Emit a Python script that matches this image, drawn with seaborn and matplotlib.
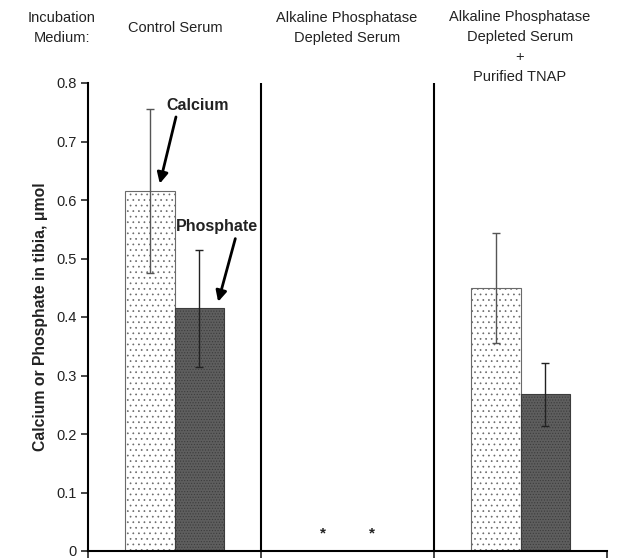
import matplotlib
matplotlib.use("Agg")
import matplotlib.pyplot as plt
import seaborn as sns
import pandas as pd
import numpy as np

groups = ["Control Serum", "Alkaline Phosphatase\nDepleted Serum",
          "Alkaline Phosphatase\nDepleted Serum\n+\nPurified TNAP"]
measures = ["Calcium", "Phosphate"]
calcium = [0.615, 0.0, 0.45]
phosphate = [0.415, 0.0, 0.268]
calcium_err = [0.14, 0.0, 0.094]
phosphate_err = [0.10, 0.0, 0.054]
yticks = [0, 0.1, 0.2, 0.3, 0.4, 0.5, 0.6, 0.7, 0.8]
ytick_labels = ["0", "0.1", "0.2", "0.3", "0.4", "0.5", "0.6", "0.7", "0.8"]

df = pd.DataFrame({
    "group": groups * 2,
    "measure": [measures[0]] * 3 + [measures[1]] * 3,
    "value": calcium + phosphate,
    "err": calcium_err + phosphate_err,
})

sns.set_style("white")
plt.rcParams['font.family'] = ['Liberation Sans', 'DejaVu Sans']
plt.rcParams['hatch.linewidth'] = 0.5

fig = plt.figure(figsize=(6.2, 5.58), dpi=100)
ax = fig.add_axes([88/620, 1-551/558, (607-88)/620, (551-83)/558])

sns.barplot(data=df, x="group", y="value", hue="measure", order=groups,
            hue_order=measures, width=0.567, errorbar=None, ax=ax,
            palette=["white", "#5c5c5c"], legend=False, saturation=1)

patches = [p for p in ax.patches]
n = len(groups)
for i, p in enumerate(patches):
    if i < n:
        p.set_facecolor("white")
        p.set_hatch("...")
        p.set_edgecolor("#6a6a6a")
    else:
        p.set_facecolor("#5e5e5e")
        p.set_hatch("......")
        p.set_edgecolor("#3c3c3c")
    p.set_linewidth(0.8)

errs = calcium_err + phosphate_err
vals = calcium + phosphate
for i, p in enumerate(patches[:2 * n]):
    cx = p.get_x() + p.get_width() / 2
    if errs[i] > 0:
        col = "#555555" if i < n else "#222222"
        ax.errorbar(cx, vals[i], yerr=errs[i], fmt="none", ecolor=col,
                    elinewidth=1.0, capsize=3, capthick=1.0, zorder=5)
    else:
        ax.text(cx, 0.03, "*", ha="center", va="center", fontsize=11,
                fontweight="bold", color="#222222")

ax.set_xlim(-0.5, 2.5)
ax.set_ylim(0, 0.8)
ax.set_yticks(yticks)
ax.set_yticklabels(ytick_labels, fontsize=10.5, color="#222222")
ax.set_xticks([-0.5, 0.5, 1.5, 2.5])
ax.set_xticklabels([])
ax.tick_params(axis="y", direction="out", length=5, width=1.2, left=True, pad=3)
ax.tick_params(axis="x", direction="out", length=5, width=1.2, bottom=True)
ax.set_xlabel("")
ax.set_ylabel("Calcium or Phosphate in tibia, \u03bcmol", fontsize=11.3,
              fontweight="bold", labelpad=6, color="#222222")
for s in ["top", "right"]:
    ax.spines[s].set_visible(False)
for s in ["left", "bottom"]:
    ax.spines[s].set_color("black")
    ax.spines[s].set_linewidth(1.5)
for xv in [0.5, 1.5]:
    ax.axvline(xv, 0, 1, color="black", lw=1.5)

# headers
hdr = dict(fontsize=10.5, color="#222222", linespacing=1.55)
fig.text(62/620, 1-28/558, "Incubation\nMedium:", ha="center", va="center", **hdr)
fig.text(175/620, 1-28/558, groups[0], ha="center", va="center", **hdr)
fig.text(347/620, 1-28/558, groups[1], ha="center", va="center", **hdr)
fig.text(520/620, 1-10/558, groups[2], ha="center", va="top", **hdr)

# annotations
arrow = dict(arrowstyle="-|>", color="black", lw=2.0, mutation_scale=16,
             shrinkA=0, shrinkB=0)
c0 = patches[0]
p0 = patches[n]
ax.text(c0.get_x() + c0.get_width() * 1.48, 0.762, "Calcium", ha="center",
        va="center", fontsize=11.5, fontweight="bold", color="#222222")
ax.annotate("", xy=(c0.get_x() + c0.get_width() * 0.70, 0.628),
            xytext=(c0.get_x() + c0.get_width() * 1.03, 0.742), arrowprops=arrow)
ax.text(p0.get_x() + p0.get_width() * 0.86, 0.555, "Phosphate", ha="center",
        va="center", fontsize=11.5, fontweight="bold", color="#222222")
ax.annotate("", xy=(p0.get_x() + p0.get_width() * 0.89, 0.426),
            xytext=(p0.get_x() + p0.get_width() * 1.24, 0.534), arrowprops=arrow)

fig.savefig("out.png", dpi=100)
